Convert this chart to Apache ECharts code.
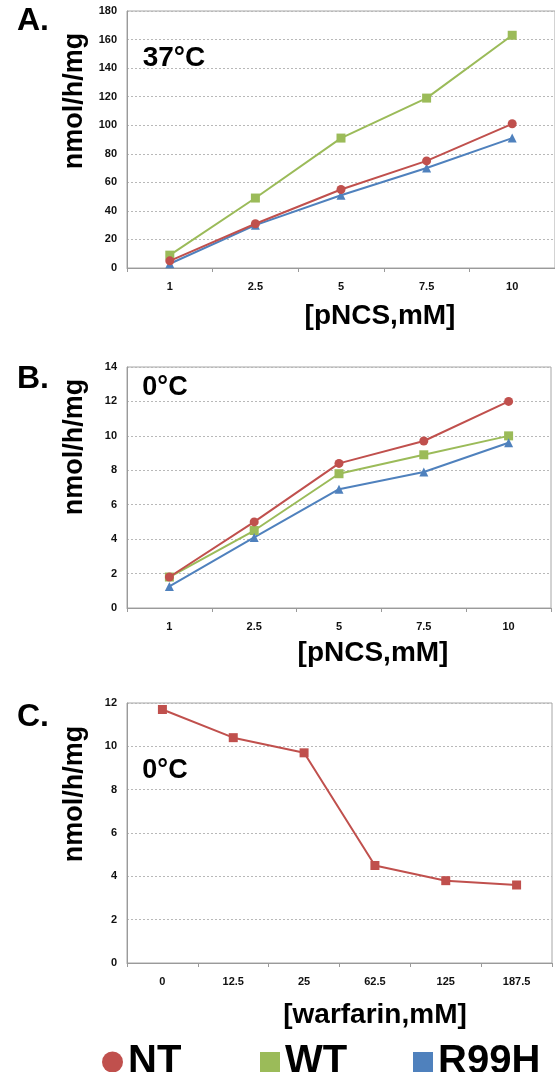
<!DOCTYPE html>
<html>
<head>
<meta charset="utf-8">
<script src="https://cdn.jsdelivr.net/npm/echarts@6/dist/echarts.min.js"></script>
<style>
html,body{margin:0;padding:0;background:#fff;}
#chart{width:555px;height:1072px;}
</style>
</head>
<body>
<div id="chart"></div>
<script>
// ---- data ----
var pncsCategories = ['1', '2.5', '5', '7.5', '10'];
var warfarinCategories = ['0', '12.5', '25', '62.5', '125', '187.5'];

// Panel A: 37°C
var a_NT   = [5, 31, 55, 75, 101];
var a_WT   = [9, 49, 91, 119, 163];
var a_R99H = [3, 30, 51, 70, 91];

// Panel B: 0°C
var b_NT   = [1.8, 5.0, 8.4, 9.7, 12.0];
var b_WT   = [1.8, 4.5, 7.8, 8.9, 10.0];
var b_R99H = [1.25, 4.1, 6.9, 7.9, 9.6];

// Panel C: 0°C, warfarin
var c_NT = [11.7, 10.4, 9.7, 4.5, 3.8, 3.6];

var yTicksA = {min: 0, max: 180, interval: 20};
var yTicksB = {min: 0, max: 14, interval: 2};
var yTicksC = {min: 0, max: 12, interval: 2};

// ---- styles ----
var RED = '#C0504D', GREEN = '#9BBB59', BLUE = '#4F81BD';
var FONT = '"Liberation Sans", Arial, sans-serif';

function grid(left, top, right, height) {
  return {left: left, top: top, right: right, height: height, show: true,
          borderColor: '#a6a6a6', borderWidth: 1, backgroundColor: 'transparent', containLabel: false};
}
function xAxis(idx, cats) {
  return {type: 'category', gridIndex: idx, data: cats, boundaryGap: true,
    axisLine: {lineStyle: {color: '#9a9a9a', width: 1}},
    axisTick: {show: true, length: 4, lineStyle: {color: '#9a9a9a'}},
    axisLabel: {color: '#111', fontFamily: FONT, fontWeight: 'bold', fontSize: 11, margin: 13},
    splitLine: {show: false}};
}
function yAxis(idx, t) {
  return {type: 'value', gridIndex: idx, min: t.min, max: t.max, interval: t.interval,
    axisLine: {show: true, lineStyle: {color: '#9a9a9a', width: 1}},
    axisTick: {show: false},
    axisLabel: {color: '#111', fontFamily: FONT, fontWeight: 'bold', fontSize: 11, margin: 10},
    splitLine: {show: true, lineStyle: {color: '#b8b8b8', type: [2, 2], width: 1}}};
}
function line(name, idx, data, color, symbol, size) {
  return {name: name, type: 'line', xAxisIndex: idx, yAxisIndex: idx, data: data,
    symbol: symbol, symbolSize: size, showSymbol: true,
    lineStyle: {color: color, width: 2}, itemStyle: {color: color},
    emphasis: {disabled: true}, animation: false, z: name === 'NT' ? 4 : 3};
}
function txt(x, y, s, size, rot) {
  return {type: 'text', x: x, y: y, rotation: rot || 0,
    style: {text: s, fill: '#000', font: 'bold ' + size + 'px ' + FONT,
            textAlign: 'center', textVerticalAlign: 'middle'}};
}
function legendItem(name, left, icon, w, h) {
  return {data: [{name: name, icon: icon}], left: left, top: 1042, padding: 0,
    itemWidth: w, itemHeight: h, itemGap: 0, selectedMode: false,
    textStyle: {color: '#000', fontFamily: FONT, fontWeight: 'bold', fontSize: 40, padding: [0,0,0,0]}};
}

var option = {
  animation: false,
  backgroundColor: '#fff',
  grid: [grid(127, 11, -9, 257), grid(127, 367, 4, 241), grid(127, 703, 3, 260)],
  xAxis: [xAxis(0, pncsCategories), xAxis(1, pncsCategories), xAxis(2, warfarinCategories)],
  yAxis: [yAxis(0, yTicksA), yAxis(1, yTicksB), yAxis(2, yTicksC)],
  legend: [
    legendItem('NT', 102, 'circle', 21, 21),
    legendItem('WT', 260, 'rect', 20, 20),
    legendItem('R99H', 413, 'rect', 20, 20)
  ],
  series: [
    line('WT', 0, a_WT, GREEN, 'rect', 9),
    line('R99H', 0, a_R99H, BLUE, 'triangle', 9),
    line('NT', 0, a_NT, RED, 'circle', 9),
    line('WT', 1, b_WT, GREEN, 'rect', 9),
    line('R99H', 1, b_R99H, BLUE, 'triangle', 9),
    line('NT', 1, b_NT, RED, 'circle', 9),
    line('NT', 2, c_NT, RED, 'rect', 9)
  ],
  graphic: [
    txt(33, 21, 'A.', 32), txt(33, 379, 'B.', 32), txt(33, 717, 'C.', 32),
    txt(75, 101, 'nmol/h/mg', 27, Math.PI / 2),
    txt(75, 447, 'nmol/h/mg', 27, Math.PI / 2),
    txt(75, 794, 'nmol/h/mg', 27, Math.PI / 2),
    txt(174, 58, '37°C', 28), txt(165, 388, '0°C', 27), txt(165, 771, '0°C', 27),
    txt(380, 316, '[pNCS,mM]', 28), txt(373, 653, '[pNCS,mM]', 28), txt(375, 1015, '[warfarin,mM]', 28)
  ]
};
var chart = echarts.init(document.getElementById('chart'), null, {renderer: 'canvas'});
chart.setOption(option);
</script>
</body>
</html>
